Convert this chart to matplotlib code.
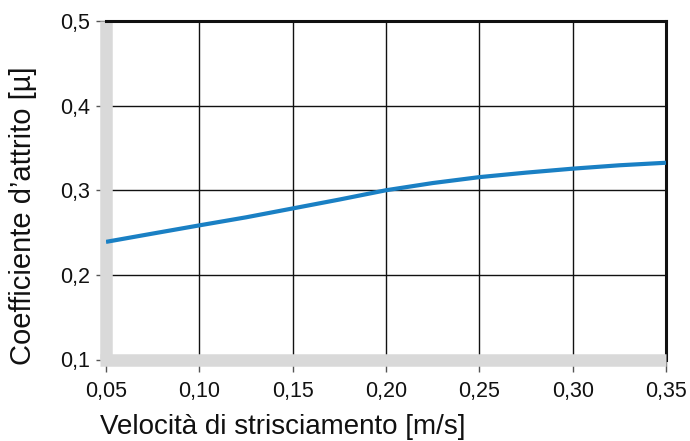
import numpy as np
import matplotlib
matplotlib.use('Agg')
import matplotlib.pyplot as plt

plt.rcParams['font.family'] = ['Liberation Sans', 'DejaVu Sans']

# valori
velocita = [0.05, 0.075, 0.10, 0.125, 0.15, 0.175, 0.20, 0.225, 0.25, 0.275, 0.30, 0.325, 0.35]
attrito = [0.239, 0.2488, 0.2585, 0.268, 0.2785, 0.289, 0.300, 0.3085, 0.3155, 0.3208, 0.3255, 0.3295, 0.3325]
xticks = [0.05, 0.10, 0.15, 0.20, 0.25, 0.30, 0.35]
yticks = [0.1, 0.2, 0.3, 0.4, 0.5]

fig = plt.figure(figsize=(6.9, 4.41), dpi=100)
ax = fig.add_axes([106/690, 1 - 359.5/441, 560/690, 338.5/441])

ax.plot(velocita, attrito, color='#1a80c4', lw=3, solid_capstyle='butt',
        solid_joinstyle='round', zorder=3)

ax.set_xlim(0.05, 0.35)
ax.set_ylim(0.1, 0.5)
ax.set_xticks(xticks)
ax.set_yticks(yticks)
ax.set_xticklabels([f'{v:.2f}'.replace('.', ',') for v in xticks])
ax.set_yticklabels([f'{v:.1f}'.replace('.', ',') for v in yticks])
ax.grid(True, color='#111111', lw=1)

for s in ['left', 'bottom']:
    ax.spines[s].set_color('#d9d9d9')
    ax.spines[s].set_linewidth(9)
    ax.spines[s].set_capstyle('butt')
ax.spines['bottom'].set_bounds(0.0468, 0.35)
for s in ['top', 'right']:
    ax.spines[s].set_color('#111111')
    ax.spines[s].set_linewidth(2.2)

ax.tick_params(axis='x', direction='out', length=8.6, width=1, color='#555555',
               labelsize=15.5, pad=7, labelcolor='#111111')
ax.tick_params(axis='y', direction='out', length=7.2, width=1, color='#555555',
               labelsize=15.5, pad=4, labelcolor='#111111')

fig.text(100/690, 7/441, 'Velocità di strisciamento [m/s]', fontsize=20,
         ha='left', va='baseline', color='#111111')
fig.text(9/690, 1 - 365/441, 'Coefficiente d\u2019attrito [\u00b5]', fontsize=21,
         rotation=90, ha='left', va='bottom', color='#111111')

fig.savefig('out.png', dpi=100)
